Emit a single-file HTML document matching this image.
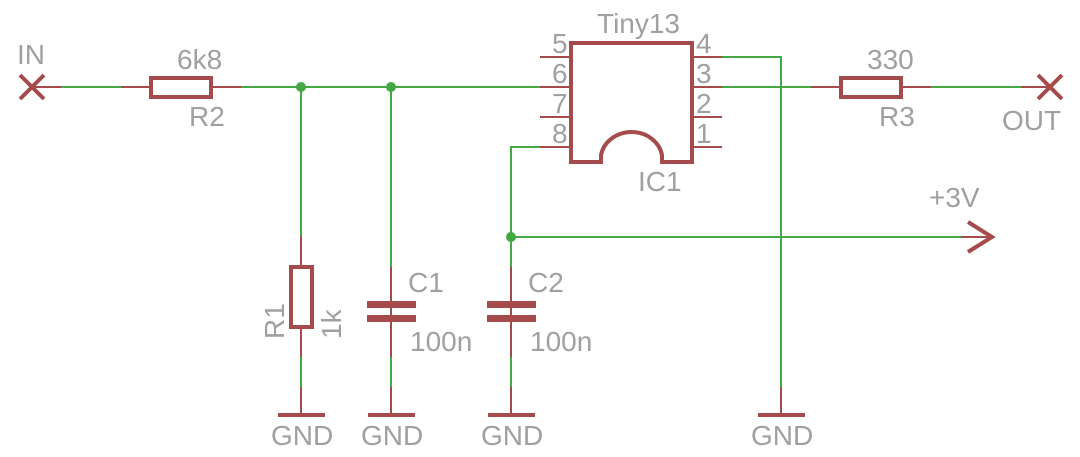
<!DOCTYPE html>
<html><head><style>body{margin:0;background:#fff}svg{display:block}text{font-family:"Liberation Sans",sans-serif;fill:#a0a0a0;font-size:28px}</style></head><body>
<svg width="1080" height="457" viewBox="0 0 1080 457">
<g stroke="#44a844" stroke-width="2" fill="none">
<line x1="61" y1="87" x2="121" y2="87"/>
<line x1="241" y1="87" x2="540" y2="87"/>
<line x1="301" y1="87" x2="301" y2="236"/>
<line x1="391" y1="87" x2="391" y2="267"/>
<line x1="301" y1="357" x2="301" y2="387"/>
<line x1="391" y1="357" x2="391" y2="387"/>
<line x1="511" y1="357" x2="511" y2="387"/>
<polyline points="540,147 511,147 511,267"/>
<line x1="511" y1="237" x2="961" y2="237"/>
<polyline points="722,57 781,57 781,387"/>
<line x1="722" y1="87" x2="811" y2="87"/>
<line x1="931" y1="87" x2="1021" y2="87"/>
</g>
<g fill="#44a844"><circle cx="301" cy="87" r="5"/><circle cx="391" cy="87" r="5"/><circle cx="511" cy="237" r="5"/></g>
<g stroke="#a54b4b" stroke-width="2" fill="none">
<line x1="32" y1="87" x2="61" y2="87"/>
<line x1="121" y1="87" x2="150" y2="87"/>
<line x1="211" y1="87" x2="241" y2="87"/>
<line x1="811" y1="87" x2="840" y2="87"/>
<line x1="902" y1="87" x2="931" y2="87"/>
<line x1="1021" y1="87" x2="1050" y2="87"/>
<line x1="961" y1="237" x2="992" y2="237"/>
<line x1="301" y1="236" x2="301" y2="266"/>
<line x1="301" y1="327" x2="301" y2="357"/>
<line x1="391" y1="267" x2="391" y2="357"/>
<line x1="511" y1="267" x2="511" y2="357"/>
<line x1="301" y1="387" x2="301" y2="415"/>
<line x1="391" y1="387" x2="391" y2="415"/>
<line x1="511" y1="387" x2="511" y2="415"/>
<line x1="781" y1="387" x2="781" y2="415"/>
<line x1="540" y1="57" x2="570" y2="57"/><line x1="540" y1="87" x2="570" y2="87"/><line x1="540" y1="117" x2="570" y2="117"/><line x1="540" y1="147" x2="570" y2="147"/>
<line x1="692" y1="57" x2="722" y2="57"/><line x1="692" y1="87" x2="722" y2="87"/><line x1="692" y1="117" x2="722" y2="117"/><line x1="692" y1="147" x2="722" y2="147"/>
</g>
<g stroke="#a54b4b" stroke-width="4" fill="none">
<line x1="20" y1="75" x2="44" y2="99"/><line x1="44" y1="75" x2="20" y2="99"/>
<line x1="1038" y1="75" x2="1062" y2="99"/><line x1="1062" y1="75" x2="1038" y2="99"/>
<polyline points="968,222 992,237 968,252"/>
<rect x="151" y="78" width="60" height="19"/>
<rect x="841" y="78" width="60" height="19"/>
<rect x="291" y="267" width="21" height="60"/>
<path d="M571,43 H692 V162 H662 V155 A31,28 0 0 0 601,155 V162 H571 Z"/>
<line x1="278" y1="415" x2="325" y2="415"/>
<line x1="368" y1="415" x2="415" y2="415"/>
<line x1="488" y1="415" x2="535" y2="415"/>
<line x1="758" y1="415" x2="805" y2="415"/>
</g>
<g fill="#a54b4b">
<rect x="367" y="301" width="49" height="7"/><rect x="367" y="315" width="49" height="7"/>
<rect x="487" y="301" width="49" height="7"/><rect x="487" y="315" width="49" height="7"/>
</g>
<text x="17" y="64">IN</text>
<text x="177" y="69">6k8</text>
<text x="189" y="126">R2</text>
<text x="867" y="69">330</text>
<text x="879" y="126">R3</text>
<text x="1002" y="130">OUT</text>
<text x="929" y="207">+3V</text>
<text x="597" y="33">Tiny13</text>
<text x="638" y="191">IC1</text>
<text x="408" y="292">C1</text>
<text x="528" y="292">C2</text>
<text x="410" y="351">100n</text>
<text x="530" y="351">100n</text>
<text transform="translate(284,339) rotate(-90)">R1</text>
<text transform="translate(341,339) rotate(-90)">1k</text>
<text x="271" y="445">GND</text><text x="361" y="445">GND</text><text x="481" y="445">GND</text><text x="751" y="445">GND</text>
<g font-size="21"><text x="552" y="53">5</text><text x="552" y="83">6</text><text x="552" y="113">7</text><text x="552" y="143">8</text>
<text x="696" y="53">4</text><text x="696" y="83">3</text><text x="696" y="113">2</text><text x="696" y="143">1</text></g>
</svg>
</body></html>
